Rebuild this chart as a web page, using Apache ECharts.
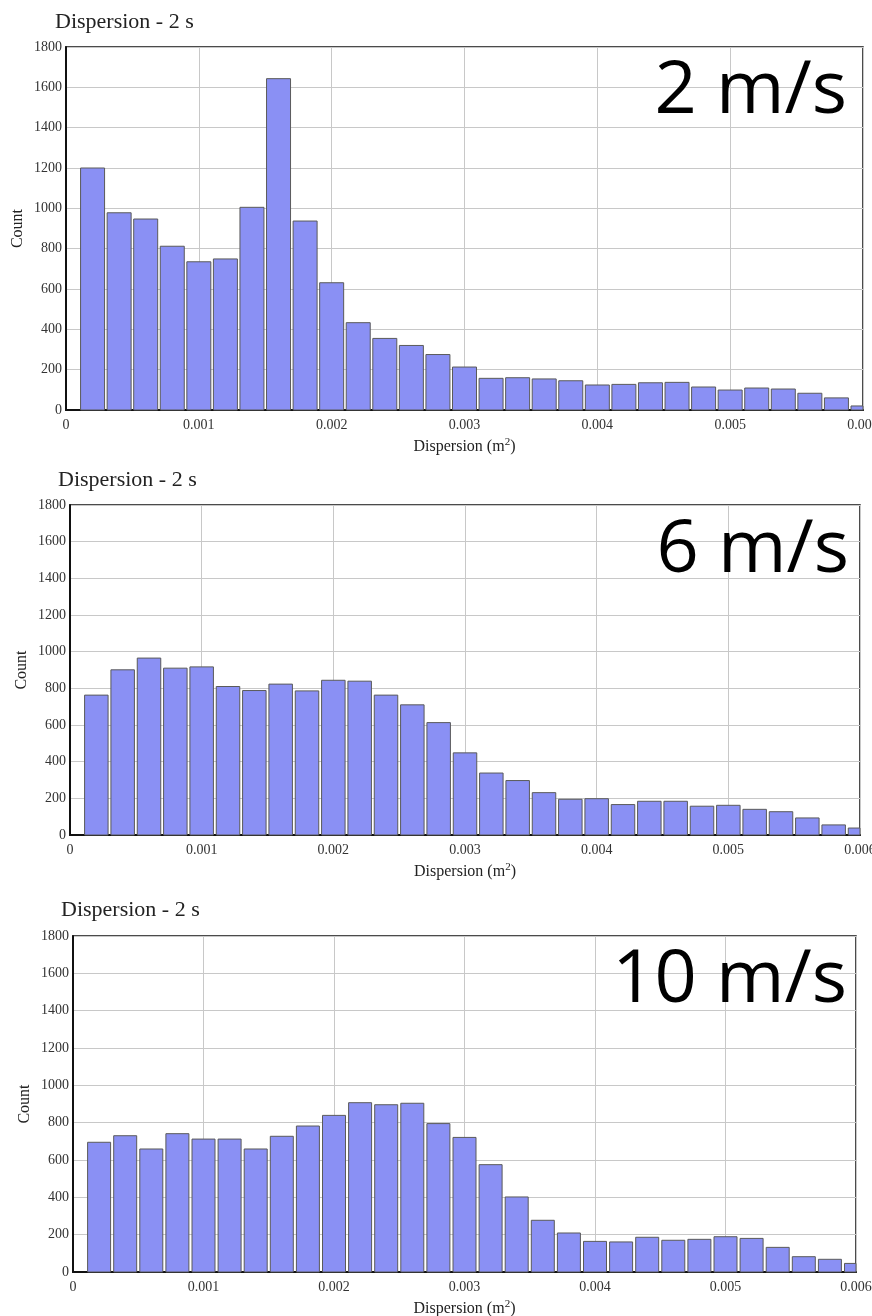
<!DOCTYPE html>
<html>
<head>
<meta charset="utf-8">
<script src="https://cdn.jsdelivr.net/npm/echarts@6/dist/echarts.min.js"></script>
<style>
html,body{margin:0;padding:0;background:#fff;}
#chart{width:872px;height:1316px;}
</style>
</head>
<body>
<div id="chart"></div>
<script>
// Bin centers (m^2)
var binCenters = [0.0002,0.0004,0.0006,0.0008,0.0010,0.0012,0.0014,0.0016,0.0018,0.0020,
                  0.0022,0.0024,0.0026,0.0028,0.0030,0.0032,0.0034,0.0036,0.0038,0.0040,
                  0.0042,0.0044,0.0046,0.0048,0.0050,0.0052,0.0054,0.0056,0.0058,0.0060];
// Counts per bin
var counts2 = [1200,978,947,812,735,749,1005,1643,937,631,433,355,320,275,213,157,160,154,145,124,127,135,137,114,99,109,104,83,60,20];
var counts6 = [763,901,965,910,917,810,788,823,786,844,839,763,710,613,448,338,297,231,195,198,166,184,184,157,162,140,127,93,55,38];
var counts10 = [695,730,659,741,712,712,659,727,782,839,907,896,904,795,721,575,402,277,209,164,161,186,170,175,189,180,132,82,68,46];
var panelTitles = ['Dispersion - 2 s','Dispersion - 2 s','Dispersion - 2 s'];
var speedLabels = ['2 m/s','6 m/s','10 m/s'];
var yTicks = {min:0, max:1800, interval:200};
var xTicks = {min:0, max:0.006, interval:0.001};

var serif = "'Liberation Serif','DejaVu Serif',serif";
var grids = [
  {left:66, right:9, top:47, height:363},
  {left:70, right:12, top:505, height:330},
  {left:73, right:16, top:936, height:336}
];
var barWidths = [24, 23.5, 23];
var titlePos = [{left:55, top:11},{left:58, top:469},{left:61, top:899}];
var speedPos = [{x:847, y:92},{x:849, y:551},{x:847, y:981}];
var datasets = [counts2, counts6, counts10];

function makeRender(i){
  return function(params, api){
    var x = api.value(0), v = api.value(1);
    var p0 = api.coord([x, 0]);
    var p1 = api.coord([x, v]);
    var w = barWidths[i];
    var cs = params.coordSys;
    var rect = echarts.graphic.clipRectByRect(
      {x:p0[0]-w/2, y:p1[1], width:w, height:p0[1]-p1[1]},
      {x:cs.x, y:cs.y, width:cs.width, height:cs.height});
    if (!rect) return null;
    return {type:'rect', shape:rect,
      style:{fill:'#8a90f4', stroke:'#5a5a5a', lineWidth:1}};
  };
}

var option = {
  backgroundColor:'#fff',
  animation:false,
  title: panelTitles.map(function(t,i){
    return {text:t, left:titlePos[i].left, top:titlePos[i].top, padding:0,
      textStyle:{fontFamily:serif, fontSize:22, fontWeight:'normal', color:'#222'}};
  }),
  grid: grids.map(function(g){
    return {left:g.left, right:g.right, top:g.top, height:g.height, show:true,
      borderColor:'#111', borderWidth:1.5, backgroundColor:'#fff', containLabel:false,
      outerBoundsMode:'none'};
  }),
  xAxis: grids.map(function(g,i){
    return {type:'value', gridIndex:i, min:xTicks.min, max:xTicks.max, interval:xTicks.interval,
      name:'Dispersion (m{sup|2})', nameLocation:'middle', nameGap:27, nameMoveOverlap:false,
      nameTextStyle:{fontFamily:serif, fontSize:16, color:'#222',
        rich:{sup:{fontFamily:serif, fontSize:11, color:'#222', verticalAlign:'top', padding:[0,0,8,0]}}},
      axisLine:{show:true, onZero:false, lineStyle:{color:'#111', width:2}},
      axisTick:{show:false},
      axisLabel:{fontFamily:serif, fontSize:14, color:'#333', margin:8, hideOverlap:false,
        formatter:function(v){ return v===0 ? '0' : v.toFixed(3); }},
      splitLine:{show:true, lineStyle:{color:'#c8c8c8', width:1}}
    };
  }),
  yAxis: grids.map(function(g,i){
    return {type:'value', gridIndex:i, min:yTicks.min, max:yTicks.max, interval:yTicks.interval,
      name:'Count', nameLocation:'middle', nameGap:40, nameMoveOverlap:false,
      nameTextStyle:{fontFamily:serif, fontSize:16, color:'#222'},
      axisLine:{show:true, lineStyle:{color:'#111', width:2}},
      axisTick:{show:false},
      axisLabel:{fontFamily:serif, fontSize:14, color:'#333', margin:4,
        formatter:function(v){ return String(v); }},
      splitLine:{show:true, lineStyle:{color:'#c8c8c8', width:1}}
    };
  }),
  graphic: speedLabels.map(function(t,i){
    return {type:'text', x:speedPos[i].x, y:speedPos[i].y, z:100,
      style:{text:t, fontFamily:"'Open Sans','Noto Sans',sans-serif", fontSize:74,
        fill:'#000', textAlign:'right', textVerticalAlign:'middle'}};
  }),
  series: datasets.map(function(d,i){
    return {type:'custom', xAxisIndex:i, yAxisIndex:i, renderItem:makeRender(i),
      encode:{x:0, y:1},
      data: binCenters.map(function(x,k){ return [x, d[k]]; })
    };
  })
};
var chart = echarts.init(document.getElementById('chart'), null, {renderer:'canvas'});
chart.setOption(option);
</script>
</body>
</html>
